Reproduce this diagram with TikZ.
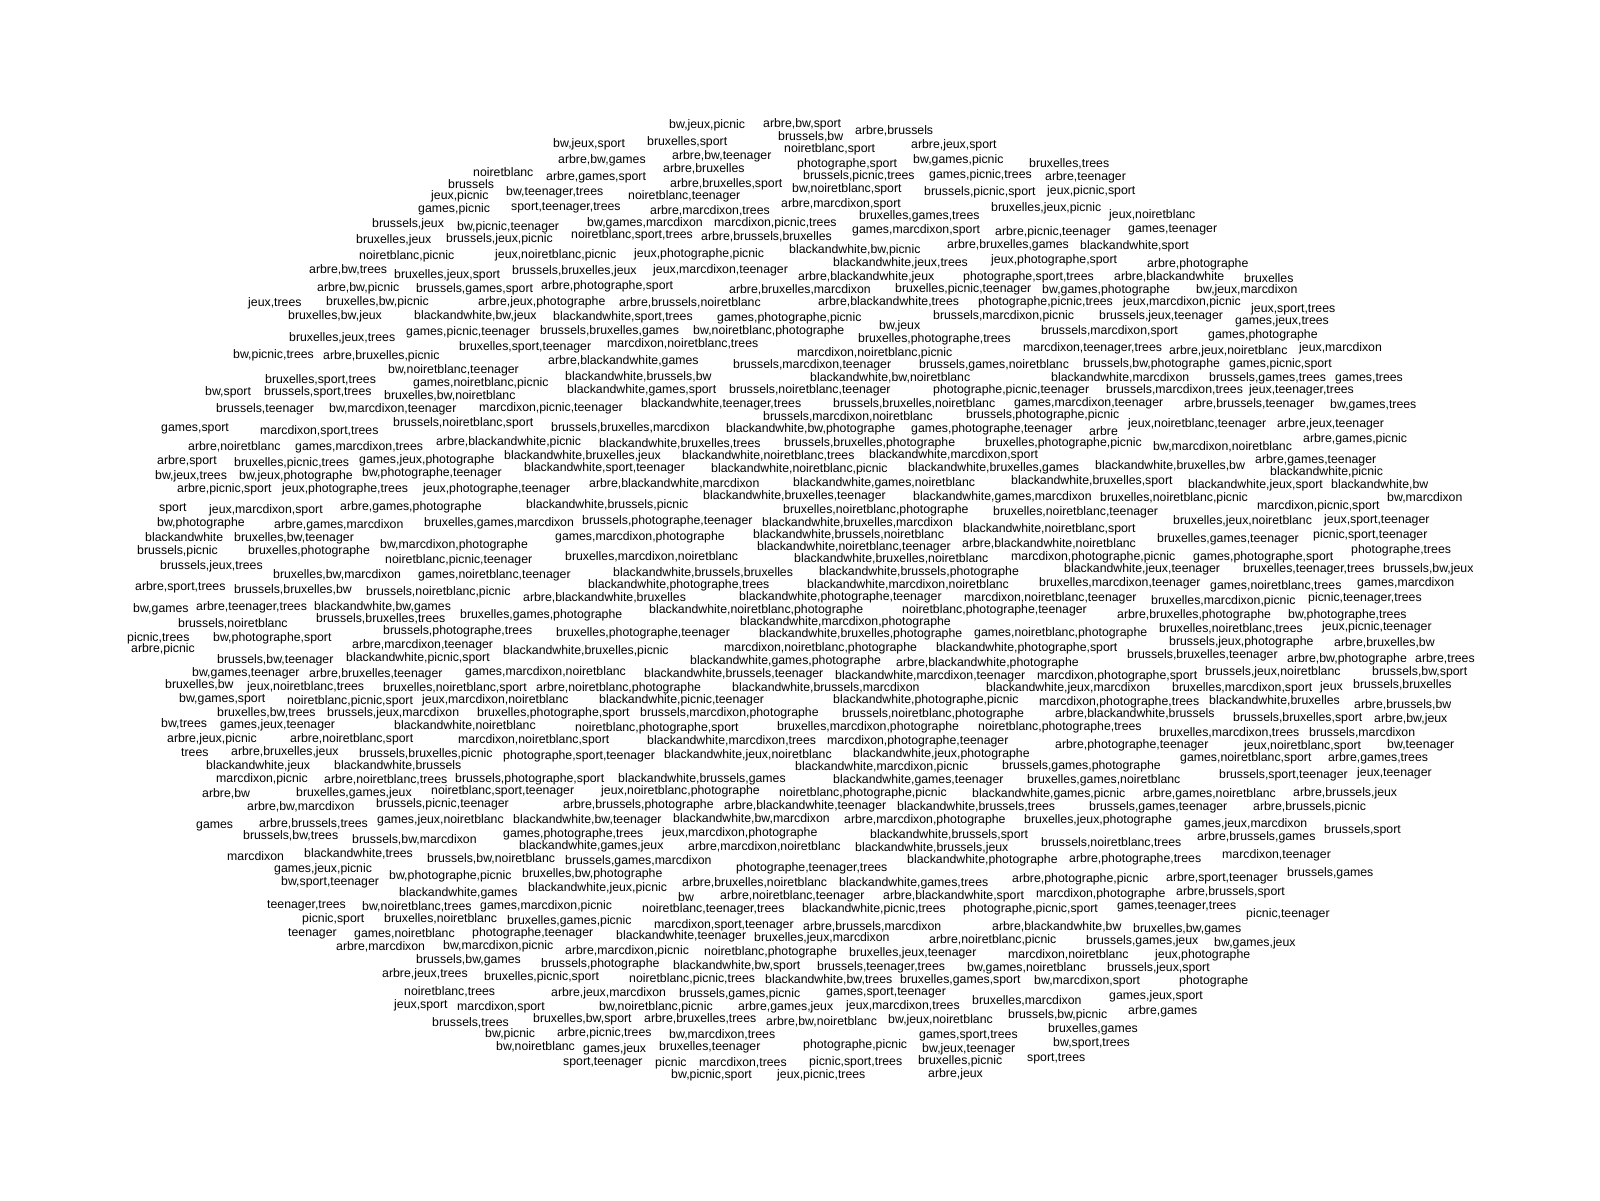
\documentclass[tikz,border=0pt]{standalone}
\usepackage{fontspec}
\setmainfont{Liberation Sans}
\begin{document}
\begin{tikzpicture}[x=1pt,y=-1pt,
  tag/.style={anchor=west,inner sep=0pt,yshift=-1.2pt,text height=9pt,text depth=2.5pt,font=\fontsize{12.3}{14}\selectfont}]
\fill[white] (0,0) rectangle (1600,1200);
\useasboundingbox (0,0) rectangle (1600,1200);
\foreach \x/\y/\t [count=\i] in {
553/143/{bw,jeux,sport},558/159/{arbre,bw,games},473/172/{noiretblanc},546/176/{arbre,games,sport},
448/184/{brussels},506/191/{bw,teenager,trees},431/195/{jeux,picnic},418/208/{games,picnic},
511/206/{sport,teenager,trees},372/223/{brussels,jeux},457/226/{bw,picnic,teenager},587/222/{bw,games,marcdixon},
356/239/{bruxelles,jeux},446/238/{brussels,jeux,picnic},571/234/{noiretblanc,sport,trees},359/255/{noiretblanc,picnic},
495/254/{jeux,noiretblanc,picnic},309/269/{arbre,bw,trees},394/274/{bruxelles,jeux,sport},512/270/{brussels,bruxelles,jeux},
317/287/{arbre,bw,picnic},416/288/{brussels,games,sport},541/285/{arbre,photographe,sport},248/302/{jeux,trees},
326/301/{bruxelles,bw,picnic},478/301/{arbre,jeux,photographe},288/315/{bruxelles,bw,jeux},414/315/{blackandwhite,bw,jeux},
553/316/{blackandwhite,sport,trees},289/337/{bruxelles,jeux,trees},406/331/{games,picnic,teenager},540/330/{brussels,bruxelles,games},
459/346/{bruxelles,sport,teenager},607/343/{marcdixon,noiretblanc,trees},233/354/{bw,picnic,trees},323/355/{arbre,bruxelles,picnic},
548/360/{arbre,blackandwhite,games},
669/124/{bw,jeux,picnic},763/123/{arbre,bw,sport},647/141/{bruxelles,sport},778/136/{brussels,bw},
855/130/{arbre,brussels},784/148/{noiretblanc,sport},911/144/{arbre,jeux,sport},672/155/{arbre,bw,teenager},
663/168/{arbre,bruxelles},797/163/{photographe,sport},913/159/{bw,games,picnic},1029/163/{bruxelles,trees},
803/175/{brussels,picnic,trees},929/174/{games,picnic,trees},1045/176/{arbre,teenager},670/183/{arbre,bruxelles,sport},
792/188/{bw,noiretblanc,sport},924/191/{brussels,picnic,sport},1047/190/{jeux,picnic,sport},628/195/{noiretblanc,teenager},
781/203/{arbre,marcdixon,sport},650/210/{arbre,marcdixon,trees},991/207/{bruxelles,jeux,picnic},1109/214/{jeux,noiretblanc},
859/215/{bruxelles,games,trees},714/222/{marcdixon,picnic,trees},852/229/{games,marcdixon,sport},995/231/{arbre,picnic,teenager},
1128/228/{games,teenager},701/236/{arbre,brussels,bruxelles},947/244/{arbre,bruxelles,games},1080/245/{blackandwhite,sport},
789/249/{blackandwhite,bw,picnic},634/253/{jeux,photographe,picnic},833/262/{blackandwhite,jeux,trees},991/259/{jeux,photographe,sport},
1147/263/{arbre,photographe},653/269/{jeux,marcdixon,teenager},798/276/{arbre,blackandwhite,jeux},963/276/{photographe,sport,trees},
1114/276/{arbre,blackandwhite},1244/278/{bruxelles},729/289/{arbre,bruxelles,marcdixon},895/288/{bruxelles,picnic,teenager},
1042/289/{bw,games,photographe},1196/289/{bw,jeux,marcdixon},619/302/{arbre,brussels,noiretblanc},818/301/{arbre,blackandwhite,trees},
978/301/{photographe,picnic,trees},1123/301/{jeux,marcdixon,picnic},1251/308/{jeux,sport,trees},1235/320/{games,jeux,trees},
717/317/{games,photographe,picnic},933/315/{brussels,marcdixon,picnic},1099/315/{brussels,jeux,teenager},879/325/{bw,jeux},
693/330/{bw,noiretblanc,photographe},858/338/{bruxelles,photographe,trees},1041/330/{brussels,marcdixon,sport},1208/334/{games,photographe},
1023/347/{marcdixon,teenager,trees},1169/350/{arbre,jeux,noiretblanc},1299/347/{jeux,marcdixon},797/352/{marcdixon,noiretblanc,picnic},
733/364/{brussels,marcdixon,teenager},919/364/{brussels,games,noiretblanc},1083/363/{brussels,bw,photographe},1229/363/{games,picnic,sport},
388/369/{bw,noiretblanc,teenager},265/379/{bruxelles,sport,trees},413/382/{games,noiretblanc,picnic},565/376/{blackandwhite,brussels,bw},
205/391/{bw,sport},264/391/{brussels,sport,trees},384/395/{bruxelles,bw,noiretblanc},567/389/{blackandwhite,games,sport},
216/408/{brussels,teenager},329/408/{bw,marcdixon,teenager},479/407/{marcdixon,picnic,teenager},161/427/{games,sport},
260/430/{marcdixon,sport,trees},393/422/{brussels,noiretblanc,sport},551/427/{brussels,bruxelles,marcdixon},188/446/{arbre,noiretblanc},
295/446/{games,marcdixon,trees},436/441/{arbre,blackandwhite,picnic},599/443/{blackandwhite,bruxelles,trees},157/460/{arbre,sport},
234/462/{bruxelles,picnic,trees},359/459/{games,jeux,photographe},504/455/{blackandwhite,bruxelles,jeux},155/475/{bw,jeux,trees},
239/475/{bw,jeux,photographe},362/472/{bw,photographe,teenager},524/467/{blackandwhite,sport,teenager},177/488/{arbre,picnic,sport},
282/488/{jeux,photographe,trees},423/488/{jeux,photographe,teenager},589/483/{arbre,blackandwhite,marcdixon},159/507/{sport},
209/509/{jeux,marcdixon,sport},340/506/{arbre,games,photographe},526/504/{blackandwhite,brussels,picnic},157/522/{bw,photographe},
274/524/{arbre,games,marcdixon},424/522/{bruxelles,games,marcdixon},582/520/{brussels,photographe,teenager},145/537/{blackandwhite},
234/537/{bruxelles,bw,teenager},555/536/{games,marcdixon,photographe},137/550/{brussels,picnic},248/550/{bruxelles,photographe},
380/544/{bw,marcdixon,photographe},385/559/{noiretblanc,picnic,teenager},565/556/{bruxelles,marcdixon,noiretblanc},160/565/{brussels,jeux,trees},
273/574/{bruxelles,bw,marcdixon},418/574/{games,noiretblanc,teenager},613/572/{blackandwhite,brussels,bruxelles},135/586/{arbre,sport,trees},
234/589/{brussels,bruxelles,bw},366/591/{brussels,noiretblanc,picnic},588/584/{blackandwhite,photographe,trees},523/597/{arbre,blackandwhite,bruxelles},
810/377/{blackandwhite,bw,noiretblanc},1051/377/{blackandwhite,marcdixon},1209/377/{brussels,games,trees},1335/377/{games,trees},
729/389/{brussels,noiretblanc,teenager},933/389/{photographe,picnic,teenager},1106/389/{brussels,marcdixon,trees},1249/389/{jeux,teenager,trees},
641/403/{blackandwhite,teenager,trees},833/403/{brussels,bruxelles,noiretblanc},1014/402/{games,marcdixon,teenager},1184/403/{arbre,brussels,teenager},
1330/404/{bw,games,trees},763/416/{brussels,marcdixon,noiretblanc},966/414/{brussels,photographe,picnic},726/428/{blackandwhite,bw,photographe},
911/428/{games,photographe,teenager},1089/431/{arbre},1128/423/{jeux,noiretblanc,teenager},1277/423/{arbre,jeux,teenager},
784/442/{brussels,bruxelles,photographe},985/442/{bruxelles,photographe,picnic},1153/446/{bw,marcdixon,noiretblanc},1303/438/{arbre,games,picnic},
682/455/{blackandwhite,noiretblanc,trees},869/454/{blackandwhite,marcdixon,sport},711/468/{blackandwhite,noiretblanc,picnic},908/467/{blackandwhite,bruxelles,games},
1095/465/{blackandwhite,bruxelles,bw},1255/459/{arbre,games,teenager},1270/471/{blackandwhite,picnic},793/482/{blackandwhite,games,noiretblanc},
1011/480/{blackandwhite,bruxelles,sport},1188/484/{blackandwhite,jeux,sport},1331/484/{blackandwhite,bw},703/495/{blackandwhite,bruxelles,teenager},
913/496/{blackandwhite,games,marcdixon},1100/497/{bruxelles,noiretblanc,picnic},1387/497/{bw,marcdixon},783/509/{bruxelles,noiretblanc,photographe},
993/511/{bruxelles,noiretblanc,teenager},1257/505/{marcdixon,picnic,sport},762/522/{blackandwhite,bruxelles,marcdixon},1173/520/{bruxelles,jeux,noiretblanc},
1324/519/{jeux,sport,teenager},963/528/{blackandwhite,noiretblanc,sport},753/534/{blackandwhite,brussels,noiretblanc},757/546/{blackandwhite,noiretblanc,teenager},
962/543/{arbre,blackandwhite,noiretblanc},1157/538/{bruxelles,games,teenager},1313/534/{picnic,sport,teenager},1351/549/{photographe,trees},
794/558/{blackandwhite,bruxelles,noiretblanc},1011/556/{marcdixon,photographe,picnic},1193/556/{games,photographe,sport},819/571/{blackandwhite,brussels,photographe},
1064/568/{blackandwhite,jeux,teenager},1243/568/{bruxelles,teenager,trees},1383/568/{brussels,bw,jeux},807/584/{blackandwhite,marcdixon,noiretblanc},
1039/582/{bruxelles,marcdixon,teenager},1210/585/{games,noiretblanc,trees},1357/582/{games,marcdixon},739/596/{blackandwhite,photographe,teenager},
964/597/{marcdixon,noiretblanc,teenager},1151/600/{bruxelles,marcdixon,picnic},1308/597/{picnic,teenager,trees},
133/608/{bw,games},196/606/{arbre,teenager,trees},314/606/{blackandwhite,bw,games},460/614/{bruxelles,games,photographe},
178/623/{brussels,noiretblanc},316/618/{brussels,bruxelles,trees},127/637/{picnic,trees},213/637/{bw,photographe,sport},
383/630/{brussels,photographe,trees},556/632/{bruxelles,photographe,teenager},131/648/{arbre,picnic},352/644/{arbre,marcdixon,teenager},
503/650/{blackandwhite,bruxelles,picnic},217/659/{brussels,bw,teenager},346/657/{blackandwhite,picnic,sport},192/672/{bw,games,teenager},
309/673/{arbre,bruxelles,teenager},465/671/{games,marcdixon,noiretblanc},165/684/{bruxelles,bw},247/686/{jeux,noiretblanc,trees},
383/687/{bruxelles,noiretblanc,sport},536/687/{arbre,noiretblanc,photographe},179/698/{bw,games,sport},287/700/{noiretblanc,picnic,sport},
422/699/{jeux,marcdixon,noiretblanc},599/699/{blackandwhite,picnic,teenager},217/712/{bruxelles,bw,trees},327/712/{brussels,jeux,marcdixon},
477/712/{bruxelles,photographe,sport},161/723/{bw,trees},220/724/{games,jeux,teenager},394/725/{blackandwhite,noiretblanc},
575/727/{noiretblanc,photographe,sport},167/738/{arbre,jeux,picnic},290/738/{arbre,noiretblanc,sport},458/739/{marcdixon,noiretblanc,sport},
181/752/{trees},231/751/{arbre,bruxelles,jeux},359/753/{brussels,bruxelles,picnic},503/755/{photographe,sport,teenager},
206/765/{blackandwhite,jeux},334/765/{blackandwhite,brussels},216/778/{marcdixon,picnic},324/779/{arbre,noiretblanc,trees},
455/778/{brussels,photographe,sport},618/778/{blackandwhite,brussels,games},202/793/{arbre,bw},296/792/{bruxelles,games,jeux},
431/790/{noiretblanc,sport,teenager},601/790/{jeux,noiretblanc,photographe},247/806/{arbre,bw,marcdixon},376/803/{brussels,picnic,teenager},
563/804/{arbre,brussels,photographe},196/824/{games},259/823/{arbre,brussels,trees},377/819/{games,jeux,noiretblanc},
513/819/{blackandwhite,bw,teenager},243/835/{brussels,bw,trees},352/839/{brussels,bw,marcdixon},503/833/{games,photographe,trees},
649/609/{blackandwhite,noiretblanc,photographe},902/609/{noiretblanc,photographe,teenager},740/621/{blackandwhite,marcdixon,photographe},759/633/{blackandwhite,bruxelles,photographe},
974/632/{games,noiretblanc,photographe},1159/628/{bruxelles,noiretblanc,trees},1322/626/{jeux,picnic,teenager},1117/614/{arbre,bruxelles,photographe},
1288/614/{bw,photographe,trees},724/647/{marcdixon,noiretblanc,photographe},936/647/{blackandwhite,photographe,sport},1169/641/{brussels,jeux,photographe},
1334/642/{arbre,bruxelles,bw},690/660/{blackandwhite,games,photographe},896/662/{arbre,blackandwhite,photographe},1127/654/{brussels,bruxelles,teenager},
1287/658/{arbre,bw,photographe},1415/658/{arbre,trees},644/673/{blackandwhite,brussels,teenager},835/675/{blackandwhite,marcdixon,teenager},
1037/675/{marcdixon,photographe,sport},1205/671/{brussels,jeux,noiretblanc},1372/671/{brussels,bw,sport},732/687/{blackandwhite,brussels,marcdixon},
986/687/{blackandwhite,jeux,marcdixon},1172/687/{bruxelles,marcdixon,sport},1320/686/{jeux},1353/684/{brussels,bruxelles},
833/699/{blackandwhite,photographe,picnic},1039/701/{marcdixon,photographe,trees},1209/700/{blackandwhite,bruxelles},1354/704/{arbre,brussels,bw},
640/712/{brussels,marcdixon,photographe},842/713/{brussels,noiretblanc,photographe},1055/713/{arbre,blackandwhite,brussels},1233/717/{brussels,bruxelles,sport},
1374/718/{arbre,bw,jeux},777/726/{bruxelles,marcdixon,photographe},978/726/{noiretblanc,photographe,trees},1159/732/{bruxelles,marcdixon,trees},
1309/732/{brussels,marcdixon},647/740/{blackandwhite,marcdixon,trees},827/740/{marcdixon,photographe,teenager},1055/744/{arbre,photographe,teenager},
1244/745/{jeux,noiretblanc,sport},1387/744/{bw,teenager},664/754/{blackandwhite,jeux,noiretblanc},853/753/{blackandwhite,jeux,photographe},
795/766/{blackandwhite,marcdixon,picnic},1002/765/{brussels,games,photographe},1180/757/{games,noiretblanc,sport},1328/757/{arbre,games,trees},
833/779/{blackandwhite,games,teenager},1027/779/{bruxelles,games,noiretblanc},1219/774/{brussels,sport,teenager},1357/772/{jeux,teenager},
779/792/{noiretblanc,photographe,picnic},972/793/{blackandwhite,games,picnic},1143/793/{arbre,games,noiretblanc},1293/792/{arbre,brussels,jeux},
724/805/{arbre,blackandwhite,teenager},897/806/{blackandwhite,brussels,trees},1089/806/{brussels,games,teenager},1253/806/{arbre,brussels,picnic},
673/818/{blackandwhite,bw,marcdixon},844/819/{arbre,marcdixon,photographe},1024/819/{bruxelles,jeux,photographe},1184/823/{games,jeux,marcdixon},
1324/829/{brussels,sport},662/832/{jeux,marcdixon,photographe},870/834/{blackandwhite,brussels,sport},1197/836/{arbre,brussels,games},
1041/842/{brussels,noiretblanc,trees},
519/845/{blackandwhite,games,jeux},227/856/{marcdixon},304/853/{blackandwhite,trees},427/858/{brussels,bw,noiretblanc},
565/860/{brussels,games,marcdixon},274/868/{games,jeux,picnic},389/875/{bw,photographe,picnic},522/873/{bruxelles,bw,photographe},
281/881/{bw,sport,teenager},399/892/{blackandwhite,games},528/887/{blackandwhite,jeux,picnic},267/904/{teenager,trees},
362/906/{bw,noiretblanc,trees},480/905/{games,marcdixon,picnic},302/918/{picnic,sport},384/918/{bruxelles,noiretblanc},
507/920/{bruxelles,games,picnic},288/932/{teenager},354/933/{games,noiretblanc},472/932/{photographe,teenager},
616/935/{blackandwhite,teenager},336/946/{arbre,marcdixon},443/945/{bw,marcdixon,picnic},565/950/{arbre,marcdixon,picnic},
416/959/{brussels,bw,games},541/963/{brussels,photographe},382/973/{arbre,jeux,trees},484/976/{bruxelles,picnic,sport},
404/991/{noiretblanc,trees},551/992/{arbre,jeux,marcdixon},394/1004/{jeux,sport},457/1006/{marcdixon,sport},
599/1006/{bw,noiretblanc,picnic},432/1022/{brussels,trees},533/1018/{bruxelles,bw,sport},485/1033/{bw,picnic},
557/1032/{arbre,picnic,trees},496/1046/{bw,noiretblanc},583/1048/{games,jeux},563/1061/{sport,teenager},
688/846/{arbre,marcdixon,noiretblanc},855/847/{blackandwhite,brussels,jeux},907/859/{blackandwhite,photographe},736/867/{photographe,teenager,trees},
682/882/{arbre,bruxelles,noiretblanc},839/882/{blackandwhite,games,trees},1012/878/{arbre,photographe,picnic},678/897/{bw},
720/895/{arbre,noiretblanc,teenager},883/895/{arbre,blackandwhite,sport},1036/893/{marcdixon,photographe},642/908/{noiretblanc,teenager,trees},
802/908/{blackandwhite,picnic,trees},963/908/{photographe,picnic,sport},654/924/{marcdixon,sport,teenager},803/926/{arbre,brussels,marcdixon},
992/926/{arbre,blackandwhite,bw},754/937/{bruxelles,jeux,marcdixon},929/939/{arbre,noiretblanc,picnic},704/951/{noiretblanc,photographe},
849/952/{bruxelles,jeux,teenager},1008/954/{marcdixon,noiretblanc},673/965/{blackandwhite,bw,sport},817/966/{brussels,teenager,trees},
967/967/{bw,games,noiretblanc},629/978/{noiretblanc,picnic,trees},765/979/{blackandwhite,bw,trees},900/979/{bruxelles,games,sport},
1034/980/{bw,marcdixon,sport},679/993/{brussels,games,picnic},826/991/{games,sport,teenager},972/1000/{bruxelles,marcdixon},
738/1006/{arbre,games,jeux},846/1005/{jeux,marcdixon,trees},1008/1014/{brussels,bw,picnic},644/1018/{arbre,bruxelles,trees},
766/1021/{arbre,bw,noiretblanc},888/1019/{bw,jeux,noiretblanc},669/1034/{bw,marcdixon,trees},919/1034/{games,sport,trees},
659/1046/{bruxelles,teenager},803/1044/{photographe,picnic},922/1048/{bw,jeux,teenager},655/1062/{picnic},
699/1062/{marcdixon,trees},809/1061/{picnic,sport,trees},918/1060/{bruxelles,picnic},1027/1057/{sport,trees},
671/1074/{bw,picnic,sport},777/1074/{jeux,picnic,trees},928/1073/{arbre,jeux},
1069/858/{arbre,photographe,trees},1222/854/{marcdixon,teenager},1166/877/{arbre,sport,teenager},1287/872/{brussels,games},
1176/891/{arbre,brussels,sport},1117/905/{games,teenager,trees},1246/913/{picnic,teenager},1133/928/{bruxelles,bw,games},
1086/940/{brussels,games,jeux},1214/942/{bw,games,jeux},1155/954/{jeux,photographe},1107/967/{brussels,jeux,sport},
1179/980/{photographe},1109/995/{games,jeux,sport},1128/1010/{arbre,games},1048/1028/{bruxelles,games},
1053/1042/{bw,sport,trees}}
  \node[tag] (w\i) at (\x,\y) {\t};
\end{tikzpicture}
\end{document}
